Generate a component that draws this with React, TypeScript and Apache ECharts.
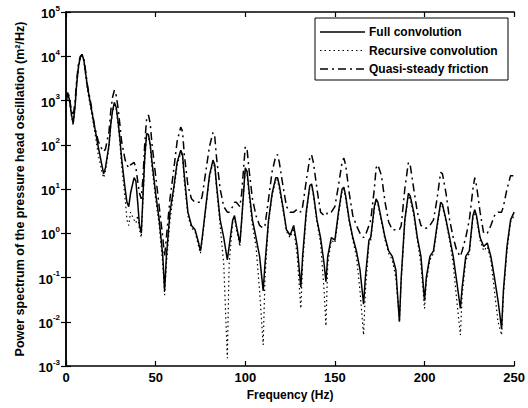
import React, { useEffect, useRef } from "react";
import * as echarts from "echarts";

const freq = [
  0, 1, 2, 3, 4, 5, 6, 7, 8, 9, 10, 11, 12, 14, 16, 18, 20, 21, 22, 24, 25, 26, 27, 28, 29, 30, 31, 33, 34, 35, 36, 38, 39, 40, 41, 42, 43, 44, 45, 46, 47, 48, 50, 52, 54, 55, 56, 58, 60, 62, 64, 65, 66, 68, 70, 72, 74, 75, 76, 78, 80, 82, 83, 84, 86, 88, 90, 91, 93, 94, 95, 97, 98, 100, 101, 102, 104, 106, 108, 110, 111, 113, 115, 117, 118, 119, 121, 123, 125, 127, 129, 131, 132, 134, 136, 137, 138, 140, 142, 144, 145, 146, 148, 150, 152, 154, 155, 156, 158, 160, 162, 164, 166, 167, 169, 170, 172, 173, 174, 176, 178, 180, 182, 184, 186, 187, 189, 191, 192, 194, 196, 198, 200, 201, 203, 205, 207, 209, 210, 212, 214, 216, 218, 220, 221, 223, 225, 227, 228, 229, 231, 233, 235, 237, 239, 241, 243, 244, 246, 248, 250,
];

const fullConvolution = [
  900, 1500, 1000, 500, 300, 700, 2500, 6000, 9500, 11000, 8000, 4000, 2000, 700, 250, 90, 35, 22, 30, 100, 300, 600, 900, 700, 350, 150, 50, 10, 5, 4, 8, 18, 15, 5, 1.5, 1, 8, 60, 180, 170, 100, 40, 8, 2, 0.3, 0.05, 0.3, 3, 10, 40, 75, 60, 20, 3, 1.5, 1.2, 0.6, 0.4, 0.8, 4, 20, 45, 35, 12, 2, 0.8, 0.25, 0.5, 2, 2.5, 1.5, 0.6, 2, 30, 25, 10, 2, 0.8, 0.3, 0.05, 0.2, 2, 8, 18, 18, 12, 4, 1.2, 0.9, 1.5, 0.5, 0.06, 0.3, 3, 12, 13, 8, 2, 0.8, 0.2, 0.08, 0.3, 0.8, 0.7, 3, 10, 11, 7, 2, 0.8, 0.4, 0.15, 0.025, 0.1, 0.7, 0.8, 4, 6, 5, 2, 0.8, 0.4, 0.3, 0.15, 0.01, 0.1, 2, 8, 7, 3, 0.8, 0.3, 0.03, 0.1, 0.3, 0.4, 1.5, 5, 4.5, 2, 0.8, 0.3, 0.08, 0.02, 0.06, 0.3, 0.4, 2.5, 3.4, 2.5, 0.8, 0.5, 0.6, 0.3, 0.1, 0.03, 0.007, 0.05, 0.5, 2, 3,
];

const recursiveConvolution = [
  800, 1400, 900, 450, 280, 650, 2300, 5500, 9000, 10500, 7500, 3500, 1700, 600, 200, 60, 25, 18, 25, 90, 280, 550, 800, 650, 300, 120, 35, 6, 2, 1.5, 3, 2, 1.7, 2.5, 1.2, 0.8, 6, 50, 160, 150, 90, 30, 6, 1.5, 0.2, 0.04, 0.2, 2, 8, 35, 65, 55, 15, 2.5, 1.3, 1.1, 0.5, 0.35, 0.7, 3.5, 18, 40, 30, 10, 1.5, 0.2, 0.0015, 0.2, 1.8, 2.2, 1.3, 0.5, 1.8, 27, 22, 8, 1.5, 0.5, 0.05, 0.003, 0.1, 1.8, 7, 16, 16, 10, 3.5, 1.1, 0.8, 1.3, 0.3, 0.02, 0.2, 2.5, 11, 12, 7, 1.8, 0.6, 0.05, 0.008, 0.2, 0.7, 0.6, 2.5, 9, 10, 6, 1.8, 0.7, 0.3, 0.05, 0.005, 0.05, 0.6, 0.7, 3.5, 5.5, 4.5, 1.8, 0.7, 0.35, 0.25, 0.1, 0.01, 0.08, 1.8, 7, 6, 2.5, 0.7, 0.2, 0.02, 0.08, 0.25, 0.35, 1.3, 4.5, 4, 1.8, 0.7, 0.2, 0.03, 0.005, 0.04, 0.25, 0.35, 2.2, 3, 2.2, 0.7, 0.4, 0.5, 0.25, 0.05, 0.01, 0.005, 0.04, 0.4, 1.8, 2.5,
];

const quasiSteadyFriction = [
  1000, 1600, 1100, 600, 450, 900, 3000, 7000, 10000, 11000, 8500, 4500, 2200, 800, 250, 120, 80, 70, 80, 200, 600, 1200, 1700, 1300, 700, 300, 120, 45, 35, 30, 35, 40, 30, 15, 8, 6, 20, 120, 400, 470, 300, 100, 20, 4, 0.8, 0.3, 0.8, 6, 25, 120, 250, 200, 60, 12, 6, 5, 5, 5, 7, 25, 90, 190, 150, 50, 10, 4, 3, 3, 4, 5, 5, 4, 8, 90, 80, 30, 6, 2.5, 1.5, 1.3, 1.5, 6, 25, 55, 60, 40, 12, 4, 3, 3, 3.5, 3, 4, 15, 50, 59, 40, 10, 3, 2.5, 2.5, 3, 3, 4, 12, 40, 50, 35, 8, 2.5, 1.5, 1, 0.8, 0.9, 1.5, 2, 10, 30, 35, 20, 5, 1.8, 1.2, 1.2, 1.2, 1.5, 10, 40, 35, 10, 3, 1.5, 1.3, 1.3, 1.5, 2, 6, 24, 22, 8, 2, 0.8, 0.4, 0.3, 0.4, 0.8, 2, 10, 18, 12, 3, 1, 1, 1.5, 2.5, 3, 3, 4, 10, 20, 20,
];

const seriesNames = ["Full convolution", "Recursive convolution", "Quasi-steady friction"];
const seriesDash: (number[] | null)[] = [null, [1.5, 3], [8, 4, 2, 4]];
const seriesWidth = [1.5, 1.2, 1.5];

const FONT = "Liberation Sans, Arial, sans-serif";

export default function App() {
  const ref = useRef<HTMLDivElement>(null);
  useEffect(() => {
    if (!ref.current) return;
    const chart = echarts.init(ref.current, null, { renderer: "svg" });
    const allValues = [fullConvolution, recursiveConvolution, quasiSteadyFriction];
    const pairs = (vals: number[]) => freq.map((f, i) => [f, vals[i]]);
    const yLabel = (v: number) => {
      const e = Math.round(Math.log10(v));
      return "{b|10}{s|" + e + "}";
    };
    const axisCommon = {
      axisLine: { show: true, lineStyle: { color: "#000", width: 1.5 } },
      axisTick: { show: true, inside: true, length: 5, lineStyle: { color: "#000", width: 1.2 } },
      splitLine: { show: false },
    };
    const legendX = 315;
    const legendY = 18;
    const rowH = 18.5;
    const legendItems: any[] = [
      {
        type: "rect",
        shape: { x: legendX, y: legendY, width: 193, height: 62 },
        style: { fill: "#fff", stroke: "#000", lineWidth: 1 },
        z: 10,
      },
    ];
    seriesNames.forEach((name, i) => {
      const cy = legendY + 14 + i * rowH;
      legendItems.push({
        type: "line",
        shape: { x1: legendX + 5, y1: cy, x2: legendX + 50, y2: cy },
        style: { stroke: "#000", lineWidth: seriesWidth[i], lineDash: seriesDash[i] || undefined },
        z: 11,
      });
      legendItems.push({
        type: "text",
        x: legendX + 54,
        y: cy,
        style: {
          text: name,
          fill: "#000",
          font: "bold 12px " + FONT,
          textVerticalAlign: "middle",
          verticalAlign: "middle",
        },
        z: 11,
      });
    });
    chart.setOption({
      animation: false,
      backgroundColor: "#fff",
      grid: { left: 66, right: 11, top: 12, bottom: 42, containLabel: false },
      graphic: legendItems,
      xAxis: [
        {
          type: "value",
          min: 0,
          max: 250,
          interval: 50,
          name: "Frequency (Hz)",
          nameLocation: "middle",
          nameGap: 21,
          nameTextStyle: { fontFamily: FONT, fontSize: 12, color: "#000", fontWeight: "bold" },
          axisLabel: { fontFamily: FONT, fontSize: 13, color: "#000", margin: 5, fontWeight: "bold" },
          ...axisCommon,
        },
        {
          type: "value",
          position: "top",
          min: 0,
          max: 250,
          interval: 50,
          axisLabel: { show: false },
          ...axisCommon,
        },
      ],
      yAxis: [
        {
          type: "log",
          logBase: 10,
          min: 1e-3,
          max: 1e5,
          name: "Power spectrum of the pressure head oscillation (m²/Hz)",
          nameLocation: "middle",
          nameGap: 40,
          nameTextStyle: { fontFamily: FONT, fontSize: 12.5, color: "#000", fontWeight: "bold" },
          axisLabel: {
            formatter: yLabel,
            margin: 6,
            rich: {
              b: { fontFamily: FONT, fontSize: 13, color: "#000", fontWeight: "bold", verticalAlign: "bottom" },
              s: { fontFamily: FONT, fontSize: 8, color: "#000", fontWeight: "bold", verticalAlign: "top", padding: [0, 0, 8, 0] },
            },
          },
          ...axisCommon,
        },
        {
          type: "log",
          logBase: 10,
          min: 1e-3,
          max: 1e5,
          position: "right",
          axisLabel: { show: false },
          ...axisCommon,
        },
      ],
      series: seriesNames.map((name, i) => ({
        name,
        type: "line",
        data: pairs(allValues[i]),
        showSymbol: false,
        symbol: "none",
        lineStyle: { color: "#000", width: seriesWidth[i], type: seriesDash[i] || "solid" },
        itemStyle: { color: "#000" },
        z: 3 - i,
      })),
    });
    return () => chart.dispose();
  }, []);
  return (
    <div
      ref={ref}
      style={{ position: "absolute", left: 0, top: 0, width: 528, height: 408 }}
    />
  );
}
